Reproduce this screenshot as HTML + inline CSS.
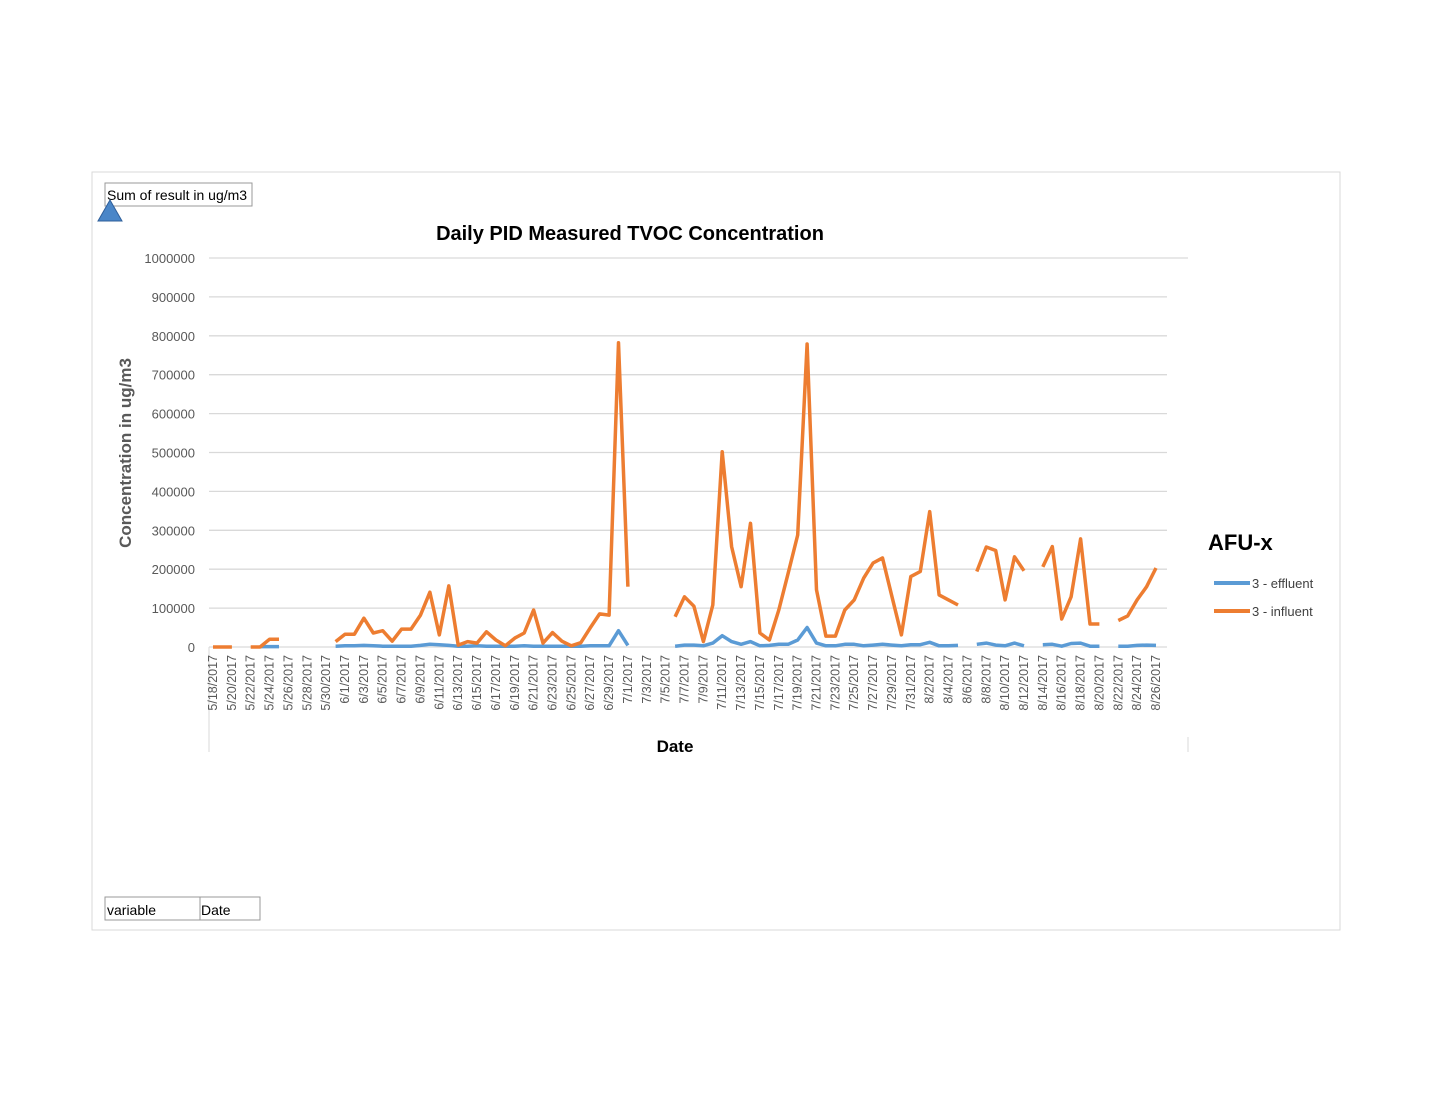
<!DOCTYPE html>
<html><head><meta charset="utf-8"><style>
body{margin:0;background:#fff;font-family:"Liberation Sans",sans-serif}
</style></head><body>
<svg width="1432" height="1103" xmlns="http://www.w3.org/2000/svg" font-family="Liberation Sans, sans-serif">
<rect x="92" y="172" width="1248" height="758" fill="#fff" stroke="#d9d9d9"/>
<rect x="105" y="183" width="147" height="23" fill="#fff" stroke="#999"/>
<text x="107" y="200" font-size="14" fill="#000">Sum of result in ug/m3</text>
<polygon points="110,200 98,221 122,221" fill="#4a86c8" stroke="#2f5f9a"/>
<rect x="105" y="897" width="95" height="23" fill="#fff" stroke="#999"/>
<text x="107" y="915" font-size="14">variable</text>
<rect x="200" y="897" width="60" height="23" fill="#fff" stroke="#999"/>
<text x="201" y="915" font-size="14">Date</text>
<text x="630" y="240" font-size="20" font-weight="bold" text-anchor="middle">Daily PID Measured TVOC Concentration</text>
<text x="131" y="453" font-size="17" font-weight="bold" fill="#595959" text-anchor="middle" transform="rotate(-90 131 453)">Concentration in ug/m3</text>
<text x="675" y="752" font-size="17" font-weight="bold" text-anchor="middle">Date</text>
<line x1="209" y1="647" x2="209" y2="752" stroke="#d9d9d9"/>
<line x1="1188" y1="737" x2="1188" y2="752" stroke="#d9d9d9"/>
<g id="grid"></g><g id="ylab"></g><g id="xlab"></g><g id="series"></g>
<text x="1208" y="550" font-size="22" font-weight="bold">AFU-x</text>
<line x1="1214" y1="583" x2="1250" y2="583" stroke="#5b9bd5" stroke-width="4"/>
<text x="1252" y="588" font-size="13" fill="#404040">3 - effluent</text>
<line x1="1214" y1="611" x2="1250" y2="611" stroke="#ed7d31" stroke-width="4"/>
<text x="1252" y="616" font-size="13" fill="#404040">3 - influent</text>
</svg>
<script>
const yTicks=[0,100000,200000,300000,400000,500000,600000,700000,800000,900000,1000000];
const startDate=[2017,4,18];
const dayCount=101;
const influent=[0,0,0,null,0,0,20000,20000,null,null,null,null,null,
14000,33000,33000,74000,36000,42000,15000,46000,46000,82000,141000,31000,157000,5000,14000,10000,39000,18000,3000,23000,36000,95000,10000,37000,15000,3000,11000,49000,85000,82000,782000,155000,
null,null,null,null,
78000,129000,105000,14000,108000,502000,258000,155000,318000,36000,18000,95000,190000,288000,779000,147000,28000,28000,95000,121000,177000,216000,229000,129000,31000,181000,194000,348000,134000,121000,108000,
null,194000,257000,248000,121000,232000,196000,null,206000,258000,72000,129000,278000,59000,59000,null,68000,80000,121000,155000,203000];
const effluent=[null,null,null,null,null,1000,1000,1000,null,null,null,null,null,
2000,3000,3000,4000,3000,2000,2000,2000,2000,4000,7000,6000,4000,2000,2000,3000,2000,2000,2000,2000,3000,2000,2000,2000,2000,2000,2000,3000,3000,3000,42000,4000,
null,null,null,null,
2000,5000,5000,3000,10000,29000,14000,7000,14000,3000,4000,7000,7000,18000,50000,10000,3000,3000,7000,7000,3000,5000,7000,5000,3000,6000,6000,12000,3000,3000,4000,
null,7000,10000,5000,3000,10000,3000,null,6000,7000,2000,9000,10000,2000,2000,null,2000,2000,4000,5000,4000];
const NS='http://www.w3.org/2000/svg';
const x0=213,dx=9.43,yBase=647,yScale=389/1000000;
const X=i=>x0+dx*i, Y=v=>yBase-v*yScale;
function mk(t,a,p){const e=document.createElementNS(NS,t);for(const k in a)e.setAttribute(k,a[k]);document.getElementById(p).appendChild(e);return e;}
yTicks.forEach((v,i)=>{
 const g=mk('line',{x1:209,x2:i==yTicks.length-1?1188:1167,y1:Y(v),y2:Y(v),stroke:'#d9d9d9','stroke-width':1.3},'grid');
 
 
 const t=mk('text',{x:195,y:Y(v)+5,'font-size':13,fill:'#595959','text-anchor':'end'},'ylab');
 t.textContent=v;
 
 
});
for(let i=0;i<dayCount;i+=2){
 const d=new Date(startDate[0],startDate[1],startDate[2]+i);
 const lab=(d.getMonth()+1)+'/'+d.getDate()+'/'+d.getFullYear();
 const t=mk('text',{x:0,y:0,'font-size':12.5,fill:'#595959','text-anchor':'end',transform:`translate(${X(i)+4},655) rotate(-90)`},'xlab');
 t.textContent=lab;
 
 
}
function draw(arr,color,name){
 let d='',pen=false;
 arr.forEach((v,i)=>{ if(v==null){pen=false;return;} d+=(pen?'L':'M')+X(i).toFixed(1)+' '+Y(v).toFixed(1)+' '; pen=true;});
 const p=mk('path',{d:d,fill:'none',stroke:color,'stroke-width':3.5,'stroke-linejoin':'round'},'series');
 
 
}
draw(effluent,'#5b9bd5','effluent-line');
draw(influent,'#ed7d31','influent-line');
</script>
</body></html>
